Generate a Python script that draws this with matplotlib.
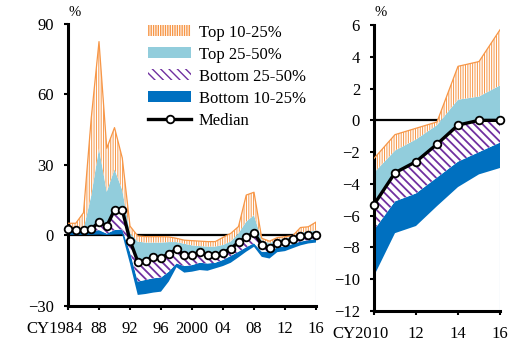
import matplotlib
matplotlib.use("Agg")
import matplotlib.pyplot as plt
from matplotlib.patches import Patch
from matplotlib.lines import Line2D
from matplotlib.transforms import ScaledTranslation
import numpy as np

plt.rcParams['font.family'] = ['Liberation Serif', 'DejaVu Serif']

years = list(range(1984, 2017))
median = [2.8, 2.3, 2.3, 2.8, 5.7, 4.0, 10.9, 10.9, -2.2, -11.1, -10.7, -9.1, -9.6,
          -7.7, -5.9, -8.3, -8.3, -7.0, -8.3, -8.3, -7.3, -5.6, -2.9, -0.6, 1.1,
          -3.9, -5.3, -3.3, -2.6, -1.5, -0.3, 0.0, 0.0]
p10 = [0.3, 0.3, 0.3, 0.3, 0.4, 0.2, 0.4, 0.5, -12.0, -25.3, -24.9, -24.3, -23.9,
       -19.6, -13.5, -15.8, -15.4, -14.7, -15.0, -14.0, -13.0, -11.6, -9.3, -6.9, -4.8,
       -9.1, -9.8, -7.1, -6.65, -5.4, -4.2, -3.4, -3.0]
p25 = [1.6, 1.5, 1.5, 1.8, 2.3, 0.8, 2.3, 2.6, -7.0, -19.6, -18.9, -18.2, -17.9,
       -15.4, -11.9, -13.0, -12.6, -11.6, -11.9, -11.6, -10.4, -8.7, -6.9, -5.0, -3.3,
       -6.9, -6.9, -5.1, -4.6, -3.6, -2.6, -2.0, -1.4]
p75 = [3.0, 2.5, 2.6, 17.0, 37.1, 18.6, 28.2, 19.4, 1.0, -2.6, -3.0, -3.0, -3.0,
       -2.8, -2.8, -3.5, -4.2, -4.5, -4.7, -4.7, -4.0, -2.5, 0.9, 5.9, 8.7,
       -2.0, -3.3, -1.9, -1.2, -0.3, 1.3, 1.5, 2.2]
p90 = [5.2, 5.2, 9.7, 50.0, 82.5, 37.1, 45.9, 33.0, 4.0, -0.2, -0.5, -0.5, -0.5,
       -0.6, -1.2, -2.0, -2.2, -2.4, -2.6, -2.6, -0.8, 0.9, 3.8, 17.2, 18.4,
       -1.2, -2.4, -0.9, -0.5, -0.1, 3.4, 3.7, 5.7]

left_ticks = [1984, 1988, 1992, 1996, 2000, 2004, 2008, 2012, 2016]
left_labels = ['CY1984', '88', '92', '96', '2000', '04', '08', '12', '16']
right_ticks = [2010, 2012, 2014, 2016]
right_labels = ['CY2010', '12', '14', '16']
legend_labels = ['Top 10-25%', 'Top 25-50%', 'Bottom 25-50%', 'Bottom 10-25%', 'Median']

ORANGE = '#F79646'
LBLUE = '#92CDDC'
PURPLE = '#7030A0'
BLUE = '#0070C0'
FS = 12
OR_HATCH = '|||||||'
PU_HATCH = '\\\\\\\\'
OR_HLW = 0.7
PU_HLW = 1.3


def hatched(ax, x, y1, y2, hatch, color, hlw):
    with plt.rc_context({'hatch.linewidth': hlw}):
        c = ax.fill_between(x, y1, y2, facecolor='white', edgecolor=color,
                            hatch=hatch, linewidth=0, zorder=2)
    if hasattr(c, 'set_hatch_linewidth'):
        c.set_hatch_linewidth(hlw)
    return c


def draw(ax, start):
    i = years.index(start)
    x = np.array(years[i:])
    a10, a25, am, a75, a90 = (np.array(v[i:]) for v in (p10, p25, median, p75, p90))
    ax.axhline(0, color='black', lw=1.6, zorder=1)
    ax.fill_between(x, a10, a25, facecolor=BLUE, linewidth=0, zorder=2)
    hatched(ax, x, a25, am, PU_HATCH, PURPLE, PU_HLW)
    ax.fill_between(x, am, a75, facecolor=LBLUE, linewidth=0, zorder=2)
    hatched(ax, x, a75, a90, OR_HATCH, ORANGE, OR_HLW)
    ax.plot(x, a90, color=ORANGE, lw=0.9, zorder=3)
    ax.plot(x, am, color='black', lw=2.4, marker='o', ms=5.5, mfc='white',
            mec='black', mew=1.3, zorder=5, clip_on=False)
    for s in ('top', 'right'):
        ax.spines[s].set_visible(False)
    for s in ('left', 'bottom'):
        ax.spines[s].set_linewidth(2.2)
    ax.tick_params(axis='both', direction='out', width=1.5, length=3, labelsize=FS)
    ax.tick_params(axis='y', pad=7)
    ax.tick_params(axis='x', pad=8)


fig = plt.figure(figsize=(5.16, 3.43), dpi=100)
ax1 = fig.add_axes([0.1318, 0.1079, 0.4806, 0.8222])
ax2 = fig.add_axes([0.7248, 0.0933, 0.2442, 0.8338])

draw(ax1, 1984)
ax1.set_xlim(1984, 2016)
ax1.set_ylim(-30, 90)
ax1.set_yticks([-30, 0, 30, 60, 90])
ax1.set_xticks(left_ticks)
ax1.set_xticklabels(left_labels)
ax1.vlines(2016, -30, p10[-1], color='#9DC3E6', lw=0.8, zorder=2)

draw(ax2, 2010)
ax2.set_xlim(2010, 2016)
ax2.set_ylim(-12, 6)
ax2.set_yticks(list(range(-12, 7, 2)))
ax2.set_xticks(right_ticks)
ax2.set_xticklabels(right_labels)
ax2.vlines(2016, -12, p10[-1], color='#9DC3E6', lw=0.8, zorder=2)

for ax in (ax1, ax2):
    lab = ax.get_xticklabels()[0]
    lab.set_transform(lab.get_transform() + ScaledTranslation(-0.13, 0, fig.dpi_scale_trans))

fig.text(75 / 516, 1 - 12 / 343, '%', ha='center', va='center', fontsize=FS - 1.5)
fig.text(381 / 516, 1 - 13 / 343, '%', ha='center', va='center', fontsize=FS - 1.5)

with plt.rc_context({'hatch.linewidth': OR_HLW}):
    h1 = Patch(facecolor='white', edgecolor=ORANGE, hatch=OR_HATCH, linewidth=0)
with plt.rc_context({'hatch.linewidth': PU_HLW}):
    h3 = Patch(facecolor='white', edgecolor=PURPLE, hatch=PU_HATCH, linewidth=0)
for h, lw in ((h1, OR_HLW), (h3, PU_HLW)):
    if hasattr(h, 'set_hatch_linewidth'):
        h.set_hatch_linewidth(lw)
handles = [h1,
           Patch(facecolor=LBLUE, linewidth=0),
           h3,
           Patch(facecolor=BLUE, linewidth=0),
           Line2D([], [], color='black', lw=2.4, marker='o', ms=5.5, mfc='white',
                  mec='black', mew=1.3)]
ax1.legend(handles, legend_labels, loc='upper left', bbox_to_anchor=(0.322, 0.998),
           frameon=False, fontsize=FS, handlelength=2.6, handleheight=0.65,
           handletextpad=0.45, labelspacing=0.36, borderpad=0, borderaxespad=0)

fig.savefig('out.png', dpi=100)
